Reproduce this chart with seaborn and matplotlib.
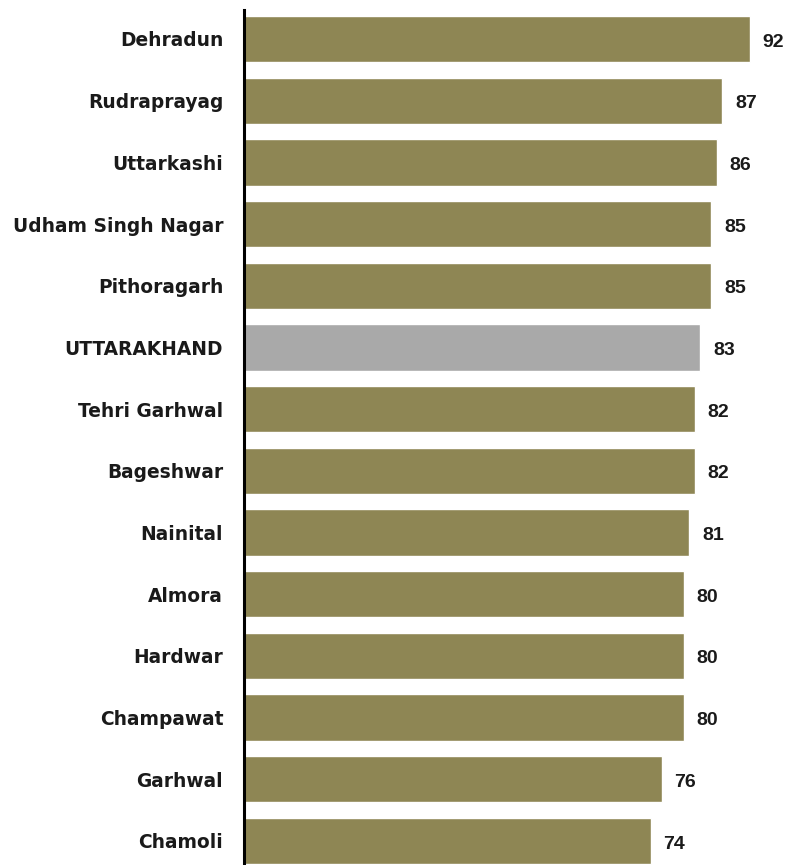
import matplotlib
matplotlib.use("Agg")
import matplotlib.pyplot as plt
import seaborn as sns
import pandas as pd

districts = ["Dehradun", "Rudraprayag", "Uttarkashi", "Udham Singh Nagar", "Pithoragarh",
             "UTTARAKHAND", "Tehri Garhwal", "Bageshwar", "Nainital", "Almora",
             "Hardwar", "Champawat", "Garhwal", "Chamoli"]
values = [92, 87, 86, 85, 85, 83, 82, 82, 81, 80, 80, 80, 76, 74]

state_name = "UTTARAKHAND"
bar_color = "#8E8654"
state_color = "#A9A9A9"

df = pd.DataFrame({"district": districts, "value": values})
palette = {d: (state_color if d == state_name else bar_color) for d in districts}

sns.set_style("white")
plt.rcParams["font.family"] = ["Liberation Sans", "DejaVu Sans"]

fig = plt.figure(figsize=(7.9, 8.65), dpi=100)
ax = fig.add_axes([244 / 790, 0.0, 1 - 244 / 790, 1 - 10 / 865])

sns.barplot(data=df, x="value", y="district", hue="district", palette=palette,
            order=districts, hue_order=districts, width=0.75, legend=False,
            saturation=1, ax=ax)

for patch, v in zip(ax.patches, values):
    y = patch.get_y() + patch.get_height() / 2
    ax.text(patch.get_width() + 2.3, y + 0.05, f"{v}", va="center", ha="left",
            fontsize=14, fontweight="bold", color="#1a1a1a",
            family=["Liberation Sans", "DejaVu Sans"])

ax.set_xlim(0, 99.3)
ax.set_ylim(13.39, -0.47)
ax.set_xlabel("")
ax.set_ylabel("")
ax.set_xticks([])
ax.tick_params(axis="y", length=0, pad=15)
for lbl in ax.get_yticklabels():
    lbl.set_fontsize(13.4)
    lbl.set_fontweight("bold")
    lbl.set_color("#1a1a1a")
    lbl.set_family(["DejaVu Sans"])

for side in ["top", "right", "bottom"]:
    ax.spines[side].set_visible(False)
ax.spines["left"].set_color("black")
ax.spines["left"].set_linewidth(2.2)

fig.savefig("out.png", dpi=100)
